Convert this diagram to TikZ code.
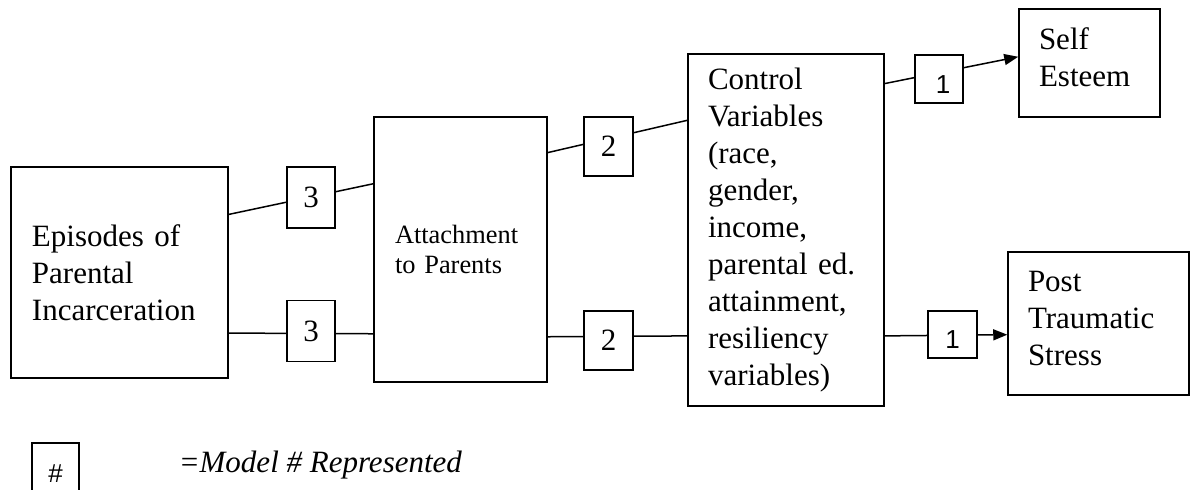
\documentclass[tikz,border=0pt]{standalone}
\usepackage{fontspec}
\setmainfont{Liberation Serif}
\newfontfamily\keyfont{Liberation Sans}
\usetikzlibrary{arrows.meta}

\begin{document}
\begin{tikzpicture}[
    x=0.5pt, y=-0.5pt,
    box/.style   = {draw, align=left, inner ysep=0pt},
    bigtxt/.style = {font=\fontsize{15.5pt}{18.5pt}\selectfont},
    model/.style = {draw, fill=white, inner sep=0pt},
    onetxt/.style = {font=\keyfont\fontsize{13pt}{15pt}\selectfont, text height=14pt, text depth=0pt},
    >={Triangle[length=7pt,width=5.5pt]}, line width=0.75pt
]
\clip (0,0) rectangle (1190,489);

% Main boxes
\node[box, bigtxt, minimum width=108.5pt, minimum height=105.5pt, inner xsep=10.5pt, text width=87.5pt] (ep) at (119.5,272.5) {Episodes of\\Parental\\Incarceration};
\node[box, font=\fontsize{13.2pt}{15pt}\selectfont, minimum width=86.5pt, minimum height=132.5pt, inner xsep=10.5pt, text width=65.5pt] (att) at (460.5,249.5) {Attachment\\to Parents};
\node[box, bigtxt, minimum width=98pt, minimum height=176pt, inner xsep=10pt, text width=78pt] (ctl) at (786,230) {Control\\Variables\\(race,\\gender,\\income,\\parental ed.\\attainment,\\resiliency\\variables)};

% Outcomes
\node[box, bigtxt, minimum width=70.5pt, minimum height=54pt, inner xsep=10pt, text width=50.5pt] (se) at (1089.5,63) {Self\\Esteem\strut};
\node[box, bigtxt, minimum width=90.5pt, minimum height=71.5pt, inner xsep=10pt, text width=70.5pt] (pts) at (1098.5,323.5) {Post\\Traumatic\\Stress\strut};

% Edges
\draw (ep.28.3) -- (att.143.3);
\draw (ep.-29.9) -- (att.224.7);
\draw (att.48.7) -- (ctl.132.5);
\draw (att.-45.3) -- (ctl.227.5);
\draw[->] (ctl.56.1) -- (se.175.1);
\draw[->] (ctl.-47.3) -- (pts.187.9);

% Model numbers
\node[model, bigtxt, minimum width=24pt, minimum height=30.5pt] (m3a) at (311,197.5) {3};
\node[model, bigtxt, minimum width=24pt, minimum height=30.5pt] (m3b) at (311,331) {3};
\node[model, bigtxt, minimum width=24.5pt, minimum height=29.5pt] (m2a) at (608.5,146.5) {2};
\node[model, bigtxt, minimum width=24.5pt, minimum height=29.5pt] (m2b) at (608.5,340.5) {2};
\node[model, onetxt, minimum width=24pt, minimum height=24pt] (m1a) at (939,79) {\hspace*{4pt}1};
\node[model, onetxt, minimum width=24.5pt, minimum height=23.5pt] (m1b) at (952.5,334.5) {1};

% Key
\node[model, font=\keyfont\fontsize{13pt}{15pt}\selectfont, minimum width=23.5pt, minimum height=31pt, anchor=north] (key) at (55.5,442) {\#};
\node[anchor=base west, inner sep=0pt, font=\fontsize{15.5pt}{18.5pt}\selectfont\itshape] (keytxt) at (178,472) {=Model \# Represented};

\end{tikzpicture}
\end{document}
